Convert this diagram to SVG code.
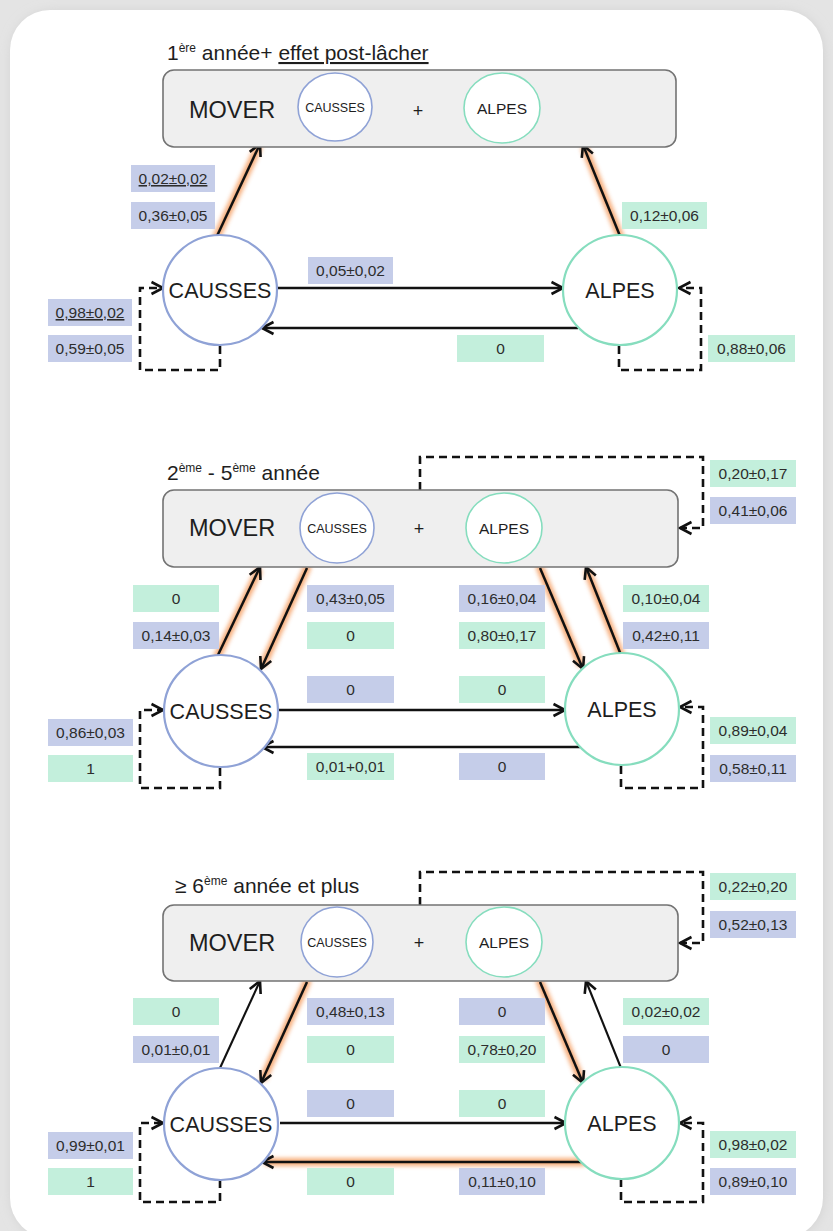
<svg xmlns="http://www.w3.org/2000/svg" width="833" height="1231" viewBox="0 0 833 1231">
<defs>
<style>
.lbl{font-family:"Liberation Sans",Arial,sans-serif;font-size:15.5px;fill:#2d2d2d;text-anchor:middle}
.b{fill:#c5cde9}
.g{fill:#c3efdc}
.box{fill:#efefef;stroke:#737373;stroke-width:1.6}
.mover{font-family:"Liberation Sans",Arial,sans-serif;font-size:23.5px;fill:#1e1e1e}
.plus{font-family:"Liberation Sans",Arial,sans-serif;font-size:18px;fill:#1e1e1e;text-anchor:middle}
.big{font-family:"Liberation Sans",Arial,sans-serif;font-size:21.5px;fill:#1e1e1e;text-anchor:middle}
.sc{font-family:"Liberation Sans",Arial,sans-serif;font-size:12.5px;fill:#1e1e1e;text-anchor:middle}
.sa{font-family:"Liberation Sans",Arial,sans-serif;font-size:15.5px;fill:#1e1e1e;text-anchor:middle}
.title{font-family:"Liberation Sans",Arial,sans-serif;font-size:21px;fill:#1e1e1e}
.cc{fill:#fff;stroke:#8fa2d6;stroke-width:2.2}
.ca{fill:#fff;stroke:#86ddbe;stroke-width:2.2}
.scc{fill:#fff;stroke:#8fa2d6;stroke-width:1.6}
.sca{fill:#fff;stroke:#86ddbe;stroke-width:1.6}
.ar{fill:none;stroke:#111;stroke-width:2.5;marker-end:url(#ah)}
.ar2{fill:none;stroke:#111;stroke-width:2.1;marker-end:url(#ah)}
.da{fill:none;stroke:#111;stroke-width:2.6;stroke-dasharray:8,5;marker-end:url(#ah)}
.gl{fill:none;stroke:#f6a46c;stroke-width:8;stroke-linecap:round;filter:url(#blur);opacity:0.9}
</style>
<marker id="ah" markerUnits="userSpaceOnUse" markerWidth="16" markerHeight="16" refX="13" refY="8" orient="auto">
<path d="M1.5,2 L13,8 L1.5,14" fill="none" stroke="#111" stroke-width="2.6" stroke-linejoin="miter"/>
</marker>
<filter id="blur" filterUnits="userSpaceOnUse" x="0" y="0" width="833" height="1231">
<feGaussianBlur stdDeviation="2.2"/>
</filter>
<filter id="shadow" filterUnits="userSpaceOnUse" x="0" y="0" width="833" height="1231">
<feGaussianBlur stdDeviation="6"/>
</filter>
</defs>

<rect x="0" y="0" width="833" height="1231" fill="#e4e4e4"/>
<rect x="12" y="12" width="811" height="1226" rx="40" fill="#cfcfcf" filter="url(#shadow)"/>
<rect x="10" y="10" width="813" height="1228" rx="40" fill="#ffffff"/>

<!-- ========== PANEL 1 ========== -->
<text class="title" x="167" y="60">1<tspan font-size="12" dy="-8">ère</tspan><tspan dy="8"> année+ </tspan><tspan text-decoration="underline">effet post-lâcher</tspan></text>

<g id="connectors-1">
<path class="gl" d="M217,236 L258,148"/>
<path class="gl" d="M620,236 L585,149"/>
<path class="ar" d="M217,236 L260,144"/>
<path class="ar" d="M620,236 L583,145"/>
<path class="ar" d="M277,288 L563,288"/>
<path class="ar" d="M578,328 L262,328"/>
<path class="da" d="M220,346 V370 H140 V288 H163"/>
<path class="da" d="M619,346 V370 H701 V288 H679"/>
</g>

<g id="mover-1">
<rect class="box" x="163" y="70" width="513" height="77" rx="11"/>
<text class="mover" x="189" y="118">MOVER</text>
<ellipse class="scc" cx="335" cy="107" rx="37" ry="34"/>
<text class="sc" x="335" y="111.5">CAUSSES</text>
<text class="plus" x="418" y="117">+</text>
<ellipse class="sca" cx="502" cy="108" rx="38" ry="35"/>
<text class="sa" x="502" y="113.5">ALPES</text>
</g>
<g id="causses-1">
<ellipse class="cc" cx="220" cy="290" rx="57" ry="55"/>
<text class="big" x="220" y="298">CAUSSES</text>
</g>
<g id="alpes-1">
<ellipse class="ca" cx="620" cy="290" rx="57" ry="55"/>
<text class="big" x="620" y="298">ALPES</text>
</g>

<g id="labels-1">
<rect class="b" x="131" y="165" width="84" height="27"/><text class="lbl" x="173" y="184" text-decoration="underline">0,02±0,02</text>
<rect class="b" x="131" y="202" width="84" height="27"/><text class="lbl" x="173" y="221">0,36±0,05</text>
<rect class="b" x="308" y="257" width="85" height="27"/><text class="lbl" x="350.5" y="276">0,05±0,02</text>
<rect class="g" x="622" y="202" width="85" height="27"/><text class="lbl" x="664.5" y="221">0,12±0,06</text>
<rect class="b" x="48" y="299" width="84" height="27"/><text class="lbl" x="90" y="318" text-decoration="underline">0,98±0,02</text>
<rect class="b" x="48" y="335" width="84" height="27"/><text class="lbl" x="90" y="354">0,59±0,05</text>
<rect class="g" x="457" y="335" width="87" height="27"/><text class="lbl" x="500.5" y="354">0</text>
<rect class="g" x="708" y="335" width="87" height="27"/><text class="lbl" x="751.5" y="354">0,88±0,06</text>
</g>

<!-- ========== PANEL 2 ========== -->
<text class="title" x="167" y="480">2<tspan font-size="12" dy="-8">ème</tspan><tspan dy="8"> - 5</tspan><tspan font-size="12" dy="-8">ème</tspan><tspan dy="8"> année</tspan></text>

<g id="connectors-2">
<path class="gl" d="M218,655 L258,572"/>
<path class="gl" d="M307,568 L264,663"/>
<path class="gl" d="M540,568 L580,663"/>
<path class="gl" d="M621,655 L588,573"/>
<path class="ar" d="M218,655 L260,567"/>
<path class="ar" d="M307,568 L261,669"/>
<path class="ar" d="M540,568 L583,669"/>
<path class="ar" d="M621,655 L586,567"/>
<path class="ar" d="M278,710 L565,710"/>
<path class="ar" d="M580,747 L262,747"/>
<path class="da" d="M220,768 V788 H140 V710 H163"/>
<path class="da" d="M621,766 V788 H703 V707 H680"/>
<path class="da" d="M420,490 V457 H703 V528 H680"/>
</g>

<g id="mover-2">
<rect class="box" x="163" y="490" width="515" height="77" rx="11"/>
<text class="mover" x="189" y="536">MOVER</text>
<ellipse class="scc" cx="337" cy="528" rx="37" ry="35"/>
<text class="sc" x="337" y="532.5">CAUSSES</text>
<text class="plus" x="419" y="535">+</text>
<ellipse class="sca" cx="504" cy="528" rx="38" ry="35"/>
<text class="sa" x="504" y="533.5">ALPES</text>
</g>
<g id="causses-2">
<ellipse class="cc" cx="221" cy="711" rx="57" ry="56"/>
<text class="big" x="221" y="719">CAUSSES</text>
</g>
<g id="alpes-2">
<ellipse class="ca" cx="622" cy="709" rx="57" ry="56"/>
<text class="big" x="622" y="717">ALPES</text>
</g>

<g id="labels-2">
<rect class="g" x="133" y="585" width="86" height="27"/><text class="lbl" x="176" y="604">0</text>
<rect class="b" x="133" y="622" width="86" height="27"/><text class="lbl" x="176" y="641">0,14±0,03</text>
<rect class="b" x="307" y="585" width="87" height="27"/><text class="lbl" x="350.5" y="604">0,43±0,05</text>
<rect class="g" x="307" y="622" width="87" height="27"/><text class="lbl" x="350.5" y="641">0</text>
<rect class="b" x="307" y="676" width="87" height="27"/><text class="lbl" x="350.5" y="695">0</text>
<rect class="g" x="307" y="753" width="87" height="27"/><text class="lbl" x="350.5" y="772">0,01+0,01</text>
<rect class="b" x="459" y="585" width="86" height="27"/><text class="lbl" x="502" y="604">0,16±0,04</text>
<rect class="g" x="459" y="622" width="86" height="27"/><text class="lbl" x="502" y="641">0,80±0,17</text>
<rect class="g" x="459" y="676" width="86" height="27"/><text class="lbl" x="502" y="695">0</text>
<rect class="b" x="459" y="753" width="86" height="27"/><text class="lbl" x="502" y="772">0</text>
<rect class="g" x="623" y="585" width="86" height="27"/><text class="lbl" x="666" y="604">0,10±0,04</text>
<rect class="b" x="623" y="622" width="86" height="27"/><text class="lbl" x="666" y="641">0,42±0,11</text>
<rect class="g" x="710" y="460" width="86" height="27"/><text class="lbl" x="753" y="479">0,20±0,17</text>
<rect class="b" x="710" y="497" width="86" height="27"/><text class="lbl" x="753" y="516">0,41±0,06</text>
<rect class="b" x="48" y="719" width="85" height="27"/><text class="lbl" x="90.5" y="738">0,86±0,03</text>
<rect class="g" x="48" y="755" width="85" height="27"/><text class="lbl" x="90.5" y="774">1</text>
<rect class="g" x="710" y="717" width="86" height="27"/><text class="lbl" x="753" y="736">0,89±0,04</text>
<rect class="b" x="710" y="755" width="86" height="27"/><text class="lbl" x="753" y="774">0,58±0,11</text>
</g>

<!-- ========== PANEL 3 ========== -->
<text class="title" x="175" y="893">≥ 6<tspan font-size="12" dy="-8">ème</tspan><tspan dy="8"> année et plus</tspan></text>

<g id="connectors-3">
<path class="gl" d="M307,982 L264,1077"/>
<path class="gl" d="M540,982 L580,1077"/>
<path class="gl" d="M583,1162 L268,1162"/>
<path class="ar2" d="M220,1068 L260,981"/>
<path class="ar" d="M307,982 L261,1083"/>
<path class="ar" d="M540,982 L583,1083"/>
<path class="ar2" d="M621,1068 L586,981"/>
<path class="ar" d="M280,1123 L566,1123"/>
<path class="ar" d="M583,1162 L262,1162"/>
<path class="da" d="M220,1180 V1202 H140 V1123 H163"/>
<path class="da" d="M621,1179 V1202 H703 V1123 H680"/>
<path class="da" d="M420,905 V872 H703 V943 H680"/>
</g>

<g id="mover-3">
<rect class="box" x="163" y="905" width="515" height="76" rx="11"/>
<text class="mover" x="189" y="951">MOVER</text>
<ellipse class="scc" cx="337" cy="942" rx="36" ry="35"/>
<text class="sc" x="337" y="946.5">CAUSSES</text>
<text class="plus" x="419" y="949">+</text>
<ellipse class="sca" cx="504" cy="942" rx="38" ry="35"/>
<text class="sa" x="504" y="947.5">ALPES</text>
</g>
<g id="causses-3">
<ellipse class="cc" cx="221" cy="1124" rx="57" ry="56"/>
<text class="big" x="221" y="1132">CAUSSES</text>
</g>
<g id="alpes-3">
<ellipse class="ca" cx="622" cy="1123" rx="57" ry="56"/>
<text class="big" x="622" y="1131">ALPES</text>
</g>

<g id="labels-3">
<rect class="g" x="133" y="998" width="86" height="27"/><text class="lbl" x="176" y="1017">0</text>
<rect class="b" x="133" y="1036" width="86" height="27"/><text class="lbl" x="176" y="1055">0,01±0,01</text>
<rect class="b" x="307" y="998" width="87" height="27"/><text class="lbl" x="350.5" y="1017">0,48±0,13</text>
<rect class="g" x="307" y="1036" width="87" height="27"/><text class="lbl" x="350.5" y="1055">0</text>
<rect class="b" x="307" y="1090" width="87" height="27"/><text class="lbl" x="350.5" y="1109">0</text>
<rect class="g" x="307" y="1168" width="87" height="27"/><text class="lbl" x="350.5" y="1187">0</text>
<rect class="b" x="459" y="998" width="86" height="27"/><text class="lbl" x="502" y="1017">0</text>
<rect class="g" x="459" y="1036" width="86" height="27"/><text class="lbl" x="502" y="1055">0,78±0,20</text>
<rect class="g" x="459" y="1090" width="86" height="27"/><text class="lbl" x="502" y="1109">0</text>
<rect class="b" x="459" y="1168" width="86" height="27"/><text class="lbl" x="502" y="1187">0,11±0,10</text>
<rect class="g" x="623" y="998" width="86" height="27"/><text class="lbl" x="666" y="1017">0,02±0,02</text>
<rect class="b" x="623" y="1036" width="86" height="27"/><text class="lbl" x="666" y="1055">0</text>
<rect class="g" x="710" y="873" width="86" height="27"/><text class="lbl" x="753" y="892">0,22±0,20</text>
<rect class="b" x="710" y="911" width="86" height="27"/><text class="lbl" x="753" y="930">0,52±0,13</text>
<rect class="b" x="48" y="1132" width="85" height="27"/><text class="lbl" x="90.5" y="1151">0,99±0,01</text>
<rect class="g" x="48" y="1168" width="85" height="27"/><text class="lbl" x="90.5" y="1187">1</text>
<rect class="g" x="710" y="1131" width="86" height="27"/><text class="lbl" x="753" y="1150">0,98±0,02</text>
<rect class="b" x="710" y="1168" width="86" height="27"/><text class="lbl" x="753" y="1187">0,89±0,10</text>
</g>
</svg>
